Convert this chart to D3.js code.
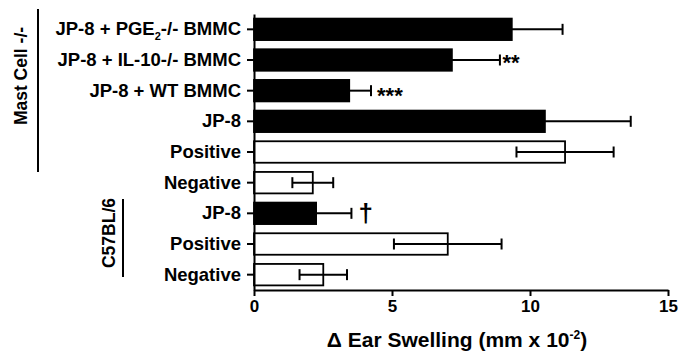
<!DOCTYPE html>
<html>
<head>
<meta charset="utf-8">
<script src="https://cdn.jsdelivr.net/npm/d3@7"></script>
<style>
  body { margin: 0; background: #fff; }
  text { font-family: "Liberation Sans", Arial, Helvetica, sans-serif; font-weight: bold; fill: #000; }
</style>
</head>
<body>
<div id="chart"></div>
<script>
// categories top to bottom
const categories = ["pge", "il10", "wt", "jp8m", "posm", "negm", "jp8c", "posc", "negc"];
const labels = ["JP-8 + PGE2-/- BMMC", "JP-8 + IL-10-/- BMMC", "JP-8 + WT BMMC", "JP-8", "Positive", "Negative", "JP-8", "Positive", "Negative"];
const means = [9.34, 7.17, 3.45, 10.54, 11.27, 2.13, 2.25, 7.02, 2.51];
const errors = [1.84, 1.74, 0.79, 3.11, 1.76, 0.74, 1.28, 1.95, 0.86];
const filled = [true, true, true, true, false, false, true, false, false];
const marks = ["", "**", "***", "", "", "", "\u2020", "", ""];
const xTicks = [0, 5, 10, 15];

const width = 690, height = 356;
const margin = { top: 14, right: 22, bottom: 66, left: 254 };

const svg = d3.select("#chart").append("svg").attr("width", width).attr("height", height);

const x = d3.scaleLinear().domain([0, 15]).range([margin.left, width - margin.right]);
const y = d3.scaleBand().domain(categories).range([margin.top, height - margin.bottom]).paddingInner(0.3).paddingOuter(0.15);

// bars
svg.selectAll("rect.bar")
    .data(categories)
    .enter()
    .append("rect")
    .attr("class", "bar")
    .attr("x", x(0))
    .attr("y", function(d) { return y(d); })
    .attr("width", function(d, i) { return x(means[i]) - x(0); })
    .attr("height", y.bandwidth())
    .attr("fill", function(d, i) { return filled[i] ? "#000" : "#fff"; })
    .attr("stroke", "#000")
    .attr("stroke-width", 1.8);

// error bars (one-sided on the black bars)
const cap = 5.5;
const eb = svg.append("g").attr("stroke", "#000").attr("stroke-width", 2);
categories.forEach(function(c, i) {
    const cy = y(c) + y.bandwidth() / 2;
    const lo = filled[i] ? means[i] : means[i] - errors[i];
    const hi = means[i] + errors[i];
    eb.append("line").attr("x1", x(lo)).attr("x2", x(hi)).attr("y1", cy).attr("y2", cy);
    eb.append("line").attr("x1", x(hi)).attr("x2", x(hi)).attr("y1", cy - cap).attr("y2", cy + cap);
    if (!filled[i]) eb.append("line").attr("x1", x(lo)).attr("x2", x(lo)).attr("y1", cy - cap).attr("y2", cy + cap);
});

// significance marks
svg.selectAll("text.mark")
    .data(categories)
    .enter()
    .append("text")
    .attr("class", "mark")
    .attr("x", function(d, i) {
        const off = marks[i] === "***" ? 6 : (marks[i] === "**" ? 2.5 : 7);
        return x(means[i] + errors[i]) + off;
    })
    .attr("y", function(d, i) {
        const cy = y(d) + y.bandwidth() / 2;
        if (marks[i] === "\u2020") return cy + 9;
        return cy + (marks[i] === "***" ? 12 : 10);
    })
    .style("font-size", function(d, i) { return marks[i] === "\u2020" ? "26px" : "22px"; })
    .text(function(d, i) { return marks[i]; });

// x axis
const xAxis = svg.append("g")
    .attr("transform", "translate(0," + (height - margin.bottom) + ")")
    .call(d3.axisBottom(x).tickValues(xTicks).tickSize(6).tickSizeOuter(0).tickPadding(4));
xAxis.selectAll("path, line").attr("stroke", "#000").attr("stroke-width", 2);
xAxis.selectAll("text").style("font-size", "17px").attr("font-family", null);

// y axis
const yAxis = svg.append("g")
    .attr("transform", "translate(" + margin.left + ",0)")
    .call(d3.axisLeft(y).tickSize(7).tickSizeOuter(0).tickPadding(6).tickFormat(function(d, i) { return labels[i]; }));
yAxis.selectAll("path, line").attr("stroke", "#000").attr("stroke-width", 2);
yAxis.selectAll("text").style("font-size", "18.5px").attr("font-family", null);

// subscript 2 in PGE2
yAxis.selectAll(".tick text").filter(function(d) { return d === "pge"; })
    .text(null)
    .call(function(t) {
        t.append("tspan").text("JP-8 + PGE");
        t.append("tspan").attr("dy", 5).style("font-size", "11px").text("2");
        t.append("tspan").attr("dy", -5).text("-/- BMMC");
    });

// x axis title
const title = svg.append("text")
    .attr("x", (x(0) + x(15)) / 2 - 4)
    .attr("y", 347)
    .attr("text-anchor", "middle")
    .style("font-size", "21px");
title.append("tspan").text("\u0394 Ear Swelling (mm x 10");
title.append("tspan").attr("dy", -8).style("font-size", "12px").text("-2");
title.append("tspan").attr("dy", 8).text(")");

// group labels with bars
svg.append("text")
    .attr("transform", "translate(27,76) rotate(-90)")
    .attr("text-anchor", "middle")
    .style("font-size", "17.5px")
    .text("Mast Cell -/-");
svg.append("line").attr("x1", 38).attr("x2", 38).attr("y1", 9).attr("y2", 172).attr("stroke", "#000").attr("stroke-width", 2);

svg.append("text")
    .attr("transform", "translate(115,233) rotate(-90)")
    .attr("text-anchor", "middle")
    .style("font-size", "17.5px")
    .text("C57BL/6");
svg.append("line").attr("x1", 123).attr("x2", 123).attr("y1", 199).attr("y2", 277).attr("stroke", "#000").attr("stroke-width", 2);
</script>
</body>
</html>
